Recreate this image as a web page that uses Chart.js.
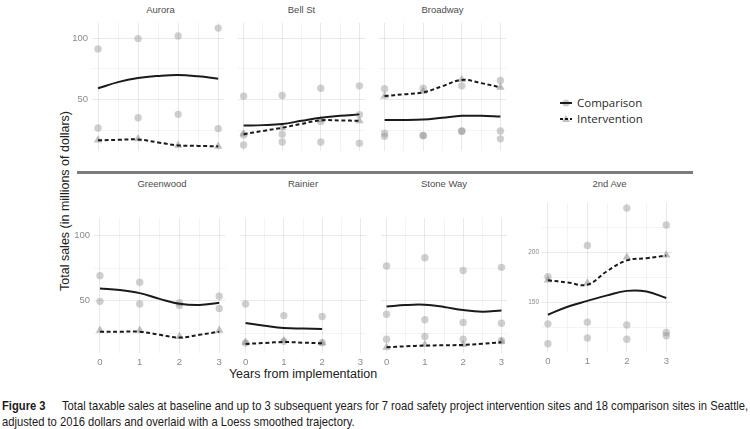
<!DOCTYPE html>
<html>
<head>
<meta charset="utf-8">
<script src="https://cdn.jsdelivr.net/npm/chart.js@4.4.1/dist/chart.umd.min.js"></script>
<style>
body{margin:0;background:#fff;}
#fig{position:relative;width:750px;height:429px;overflow:hidden;background:#fff;font-family:"Liberation Sans",Arial,sans-serif;}
#fig canvas{position:absolute;}
.ttl{position:absolute;font-size:9.5px;color:#4d4d4d;transform:translate(-50%,-50%);white-space:nowrap;line-height:1;}
.axt{position:absolute;font-size:12.5px;color:#222;white-space:nowrap;line-height:1;}
#sep{position:absolute;left:77px;top:171px;width:616px;height:3px;background:#7c7c7c;}
#legend{position:absolute;left:560px;top:95px;font-family:"Open Sans",sans-serif;font-size:11.5px;color:#2a2a2a;line-height:16px;}
#legend div{display:flex;align-items:center;}
#legend svg{margin-right:5px;}
#cap{position:absolute;left:2px;top:398px;font-family:"Liberation Sans Narrow","Liberation Sans",Arial,sans-serif;font-size:13px;color:#1d1a1b;line-height:16px;}
#cap div{white-space:nowrap;transform-origin:0 0;}
#cap b{margin-right:19px;}
</style>
</head>
<body>
<div id="fig">
  <div id="sep"></div>
  <div class="axt" id="ytitle" style="left:65px;top:201px;transform:translate(-50%,-50%) rotate(-90deg);">Total sales (in millions of dollars)</div>
  <div class="axt" style="left:303px;top:374px;transform:translate(-50%,-50%);">Years from implementation</div>
  <div id="legend">
    <div><svg width="12" height="10"><circle cx="6" cy="5" r="3.5" fill="rgba(140,140,140,0.45)"/><line x1="0" y1="5" x2="12" y2="5" stroke="#1a1a1a" stroke-width="2"/></svg><span>Comparison</span></div>
    <div><svg width="12" height="10"><polygon points="6,1 10,8 2,8" fill="rgba(140,140,140,0.55)"/><line x1="0" y1="5" x2="12" y2="5" stroke="#1a1a1a" stroke-width="2" stroke-dasharray="3,2"/></svg><span>Intervention</span></div>
  </div>
  <div id="cap">
    <div id="cap1"><b>Figure 3</b>Total taxable sales at baseline and up to 3 subsequent years for 7 road safety project intervention sites and 18 comparison sites in Seattle,</div>
    <div id="cap2">adjusted to 2016 dollars and overlaid with a Loess smoothed trajectory.</div>
  </div>
</div>
<script>
// ---------- data ----------
const years = [0, 1, 2, 3];
const fitYears = [0, 0.5, 1, 1.5, 2, 2.5, 3];

// Aurora
const auroraComparison = [[91.2, 99.5, 101.7, 108], [27.2, 35.5, 38.2, 26.7]];
const auroraIntervention = [17.4, 18.4, 13.1, 12.3];
const auroraComparisonFit = [59.3, 64.3, 67.6, 69.3, 70.1, 69.0, 67.1];
const auroraInterventionFit = [17.2, 17.6, 17.9, 15.5, 13.1, 12.7, 12.3];

// Bell St
const bellComparison = [[53, 53.5, 59.3, 61.3], [21.5, 22.2, 32.4, 38], [13.4, 15.9, 15.9, 14.9]];
const bellIntervention = [22.5, 27.5, 33.7, 33];
const bellComparisonFit = [29.2, 29.5, 30.4, 33, 35.5, 37, 38.2];
const bellInterventionFit = [22.2, 24.8, 27.4, 30.5, 33.4, 33.3, 33];

// Broadway
const broadwayComparison = [[59, 59.3, 61.3, 65.6], [22.9, 21.2, 24.7, 24.7], [20.4, 21.0, 24.5, 18.4]];
const broadwayIntervention = [53, 56.8, 66.3, 60.1];
const broadwayComparisonFit = [33.7, 33.6, 34, 35.5, 37, 37, 36.5];
const broadwayInterventionFit = [53, 54.5, 56, 61, 66.1, 63.5, 60.1];

// Greenwood
const greenwoodComparison = [[69.2, 64.3, 48.5, 53.5], [49.6, 47.6, 46.5, 44.1]];
const greenwoodIntervention = [27.4, 27.4, 22.7, 27.4];
const greenwoodComparisonFit = [59.4, 58.3, 55.9, 51.5, 47.8, 46.8, 48.5];
const greenwoodInterventionFit = [26.4, 26.4, 26.4, 24, 21.9, 24, 26.4];

// Rainier (no year 3)
const rainierComparison = [[47.6, 38.7, 38], [17.8, 19, 17.9]];
const rainierIntervention = [18.3, 19.5, 17.8];
const rainierComparisonFit = [33, 31, 29.3, 28.8, 28.4];
const rainierInterventionFit = [17, 17.8, 18.5, 18, 17.5];

// Stone Way
const stoneComparison = [[76.6, 83, 73.2, 75.6], [39.7, 35.5, 33.5, 32.8], [20.7, 22.7, 20.7, 19.5]];
const stoneIntervention = [14.5, 16.5, 16.5, 19];
const stoneComparisonFit = [45.6, 46.8, 47, 45.3, 42.9, 41.7, 42.6];
const stoneInterventionFit = [14.5, 15.2, 15.8, 16, 16.3, 17.2, 18.3];

// 2nd Ave
const secondComparison = [[175.8, 207, 244.2, 227.4], [128.7, 130.4, 127.5, 120], [108.8, 114.6, 113.3, 116.8]];
const secondIntervention = [172.3, 169.4, 195.2, 197.4];
const secondComparisonFit = [137.8, 145.8, 151.6, 157.1, 161.6, 161, 154.5];
const secondInterventionFit = [172.3, 170, 167.8, 181.3, 192, 194.2, 196.8];

const mainTicks = [25, 50, 75, 100];
const secondTicks = [125, 150, 175, 200, 225];
const xTicks = [0, 0.5, 1, 1.5, 2, 2.5, 3];

// ---------- panels (layout) ----------
const panels = [
  {name: "Aurora", comp: auroraComparison, int: auroraIntervention, compFit: auroraComparisonFit, intFit: auroraInterventionFit,
   x: 92, y: 18, w: 137, h: 138, lm: 40, bm: 0, ymin: 8.4, ymax: 112.3, yt: mainTicks, yLabels: true, xLabels: false, titleY: 10},
  {name: "Bell St", comp: bellComparison, int: bellIntervention, compFit: bellComparisonFit, intFit: bellInterventionFit,
   x: 233, y: 18, w: 137, h: 138, lm: 0, bm: 0, ymin: 8.4, ymax: 112.3, yt: mainTicks, yLabels: false, xLabels: false, titleY: 10},
  {name: "Broadway", comp: broadwayComparison, int: broadwayIntervention, compFit: broadwayComparisonFit, intFit: broadwayInterventionFit,
   x: 374, y: 18, w: 137, h: 138, lm: 0, bm: 0, ymin: 8.4, ymax: 112.3, yt: mainTicks, yLabels: false, xLabels: false, titleY: 10},
  {name: "Greenwood", comp: greenwoodComparison, int: greenwoodIntervention, compFit: greenwoodComparisonFit, intFit: greenwoodInterventionFit,
   x: 94, y: 213, w: 136, h: 140, lm: 40, bm: 18, ymin: 10.1, ymax: 113.5, yt: mainTicks, yLabels: true, xLabels: true, titleY: 184},
  {name: "Rainier", comp: rainierComparison, int: rainierIntervention, compFit: rainierComparisonFit, intFit: rainierInterventionFit,
   x: 235, y: 213, w: 136, h: 140, lm: 0, bm: 18, ymin: 10.1, ymax: 113.5, yt: mainTicks, yLabels: false, xLabels: true, titleY: 184},
  {name: "Stone Way", comp: stoneComparison, int: stoneIntervention, compFit: stoneComparisonFit, intFit: stoneInterventionFit,
   x: 376, y: 213, w: 136, h: 140, lm: 0, bm: 18, ymin: 10.1, ymax: 113.5, yt: mainTicks, yLabels: false, xLabels: true, titleY: 184},
  {name: "2nd Ave", comp: secondComparison, int: secondIntervention, compFit: secondComparisonFit, intFit: secondInterventionFit,
   x: 542, y: 198, w: 135, h: 154, lm: 26, bm: 19, ymin: 100.6, ymax: 249.5, yt: secondTicks, yLabels: true, xLabels: true, titleY: 184, small: true}
];

const fig = document.getElementById("fig");
const dotColor = "rgba(140,140,140,0.42)";
const triColor = "rgba(140,140,140,0.55)";

function pts(xs, ys){
  return ys.map((v, i) => ({x: xs[i], y: v}));
}

function gridColor(ctx, step){
  return (ctx.tick && ctx.tick.value % step === 0) ? "rgba(0,0,0,0.085)" : "rgba(0,0,0,0.045)";
}

function makePanel(p){
  const c = document.createElement("canvas");
  const w = p.w + p.lm, h = p.h + p.bm;
  c.width = w; c.height = h;
  c.style.left = (p.x - p.lm) + "px";
  c.style.top = p.y + "px";
  c.style.width = w + "px";
  c.style.height = h + "px";
  fig.appendChild(c);

  const t = document.createElement("div");
  t.className = "ttl";
  t.textContent = p.name;
  t.style.left = (p.x + p.w / 2) + "px";
  t.style.top = p.titleY + "px";
  fig.appendChild(t);

  const n = p.int.length;
  const datasets = [];

  // smoothed lines on top
  datasets.push({data: pts(fitYears, p.compFit), showLine: true, borderColor: "#1a1a1a", borderWidth: 2,
    pointRadius: 0, tension: 0.4, fill: false, clip: false});
  datasets.push({data: pts(fitYears, p.intFit), showLine: true, borderColor: "#1a1a1a", borderWidth: 2,
    borderDash: [4, 2.6], pointRadius: 0, tension: 0.4, fill: false, clip: false});

  datasets.push({data: pts(years.slice(0, n), p.int), pointStyle: "triangle", pointRadius: 4.8,
    backgroundColor: triColor, borderWidth: 0, clip: false});

  p.comp.forEach(row => {
    datasets.push({data: pts(years.slice(0, row.length), row), pointStyle: "circle", pointRadius: 3.7,
      backgroundColor: dotColor, borderWidth: 0, clip: false});
  });

  const yStep = 50;

  new Chart(c, {
    type: "scatter",
    data: {datasets: datasets},
    options: {
      responsive: false,
      animation: false,
      events: [],
      layout: {padding: 0},
      plugins: {legend: {display: false}, tooltip: {enabled: false}},
      scales: {
        x: {
          type: "linear", min: -0.15, max: 3.15,
          afterBuildTicks: s => { s.ticks = xTicks.map(v => ({value: v})); },
          afterFit: s => { s.height = p.bm; s.paddingLeft = 0; s.paddingRight = 0; },
          border: {display: false},
          grid: {drawTicks: false, color: ctx => gridColor(ctx, 1), lineWidth: 1},
          ticks: {
            display: p.xLabels, autoSkip: false, maxRotation: 0, padding: 4,
            color: "#8a8a8a", font: {size: 9.5, family: "Liberation Sans, Arial, sans-serif"},
            callback: v => Number.isInteger(v) ? String(v) : ""
          }
        },
        y: {
          type: "linear", min: p.ymin, max: p.ymax,
          afterBuildTicks: s => { s.ticks = p.yt.map(v => ({value: v})); },
          afterFit: s => { s.width = p.lm; s.paddingTop = 0; s.paddingBottom = 0; },
          border: {display: false},
          grid: {drawTicks: false, color: ctx => gridColor(ctx, yStep), lineWidth: 1},
          ticks: {
            display: p.yLabels, autoSkip: false, padding: p.small ? 3 : 4,
            color: "#8a8a8a", font: {size: p.small ? 6.5 : 9.5, family: "Liberation Sans, Arial, sans-serif"},
            callback: v => v % yStep === 0 ? String(v) : ""
          }
        }
      }
    }
  });
}

panels.forEach(makePanel);

// fit caption line to the page width
const cap1 = document.getElementById("cap1");
const cap2 = document.getElementById("cap2");
const k = 746 / cap1.scrollWidth;
cap1.style.transform = "scaleX(" + k + ")";
cap2.style.transform = "scaleX(" + k + ")";
</script>
</body>
</html>
